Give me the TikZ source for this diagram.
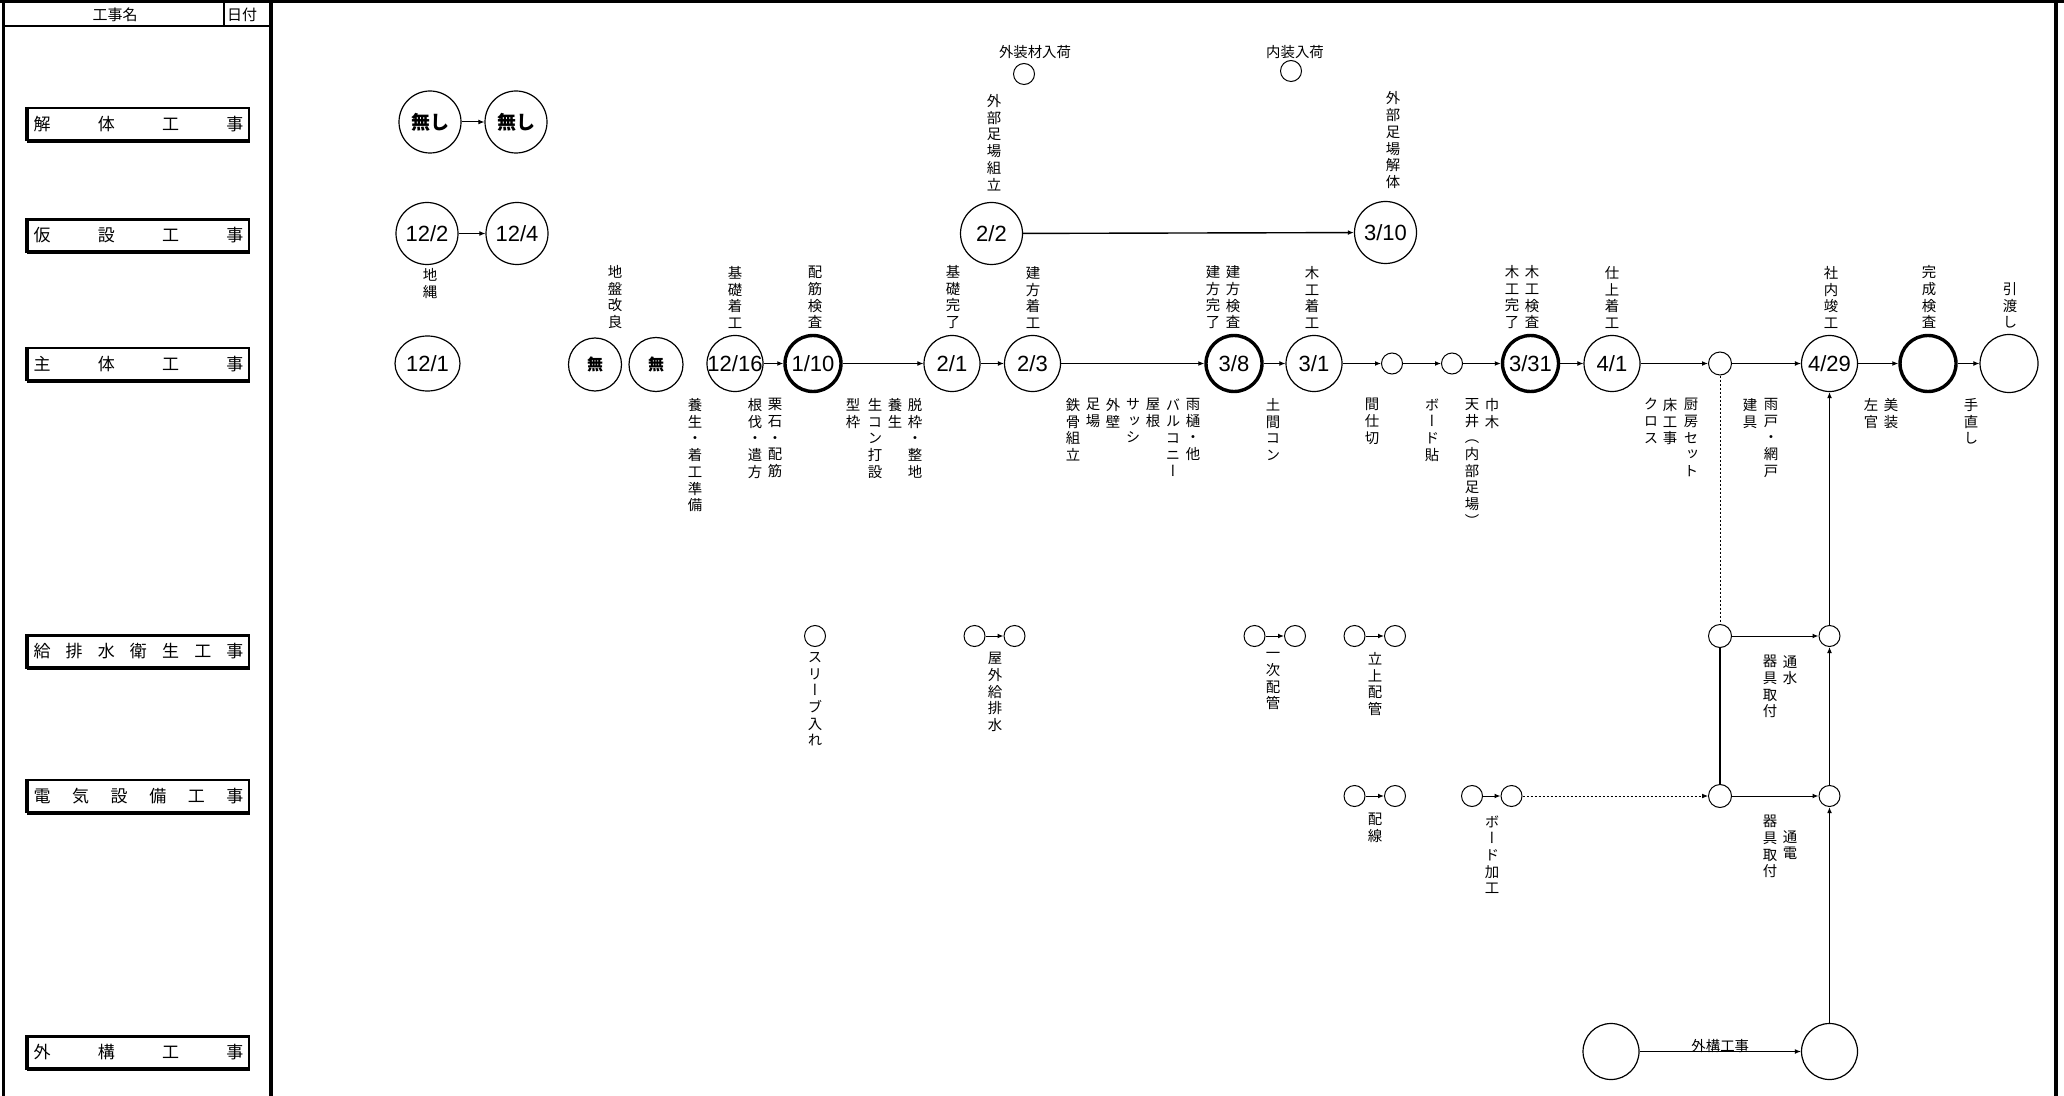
\documentclass[tikz,border=0pt]{standalone}
\usepackage{fontspec}
\setmainfont{Liberation Sans}
\newfontfamily\jp{Noto Sans CJK JP}
\newfontfamily\jpv[RawFeature=+vert]{Noto Sans CJK JP}
\usetikzlibrary{arrows.meta,shapes.geometric}
\makeatletter
\newcommand\vtx[1]{\vbox{\jpv\fontsize{7.2pt}{8.35pt}\selectfont\lineskiplimit=-100pt\lineskip=0pt\@tfor\vt@c:=#1\do{\hbox to 1em{\hss\vt@c\hss}}}}
\newcommand\spreadtx[1]{\makebox[105pt][s]{\jp\def\sp@sep{}\@tfor\sp@c:=#1\do{\sp@sep\sp@c\def\sp@sep{\hfill}}}}
\newcommand\dtx[1]{\makebox[0pt]{#1}}
\makeatother
\tikzset{
 every node/.style={inner sep=0pt},
 dnode/.style={circle,draw,line width=0.6pt,minimum size=28pt,font=\fontsize{11pt}{13pt}\selectfont},
 dnodeL/.style={dnode,minimum size=31pt},
 hot/.style={line width=1.7pt},
 snode/.style={circle,draw,line width=0.5pt,minimum size=10.5pt},
 arr/.style={-{Latex[length=3pt,width=2.4pt]},line width=0.5pt},
 dsh/.style={line width=0.4pt,dash pattern=on 1.2pt off 0.8pt},
 catbox/.style={draw,line width=1.2pt,minimum width=110.5pt,minimum height=16pt,font=\fontsize{8.5pt}{10pt}\selectfont},
 up/.style={anchor=south},
 dn/.style={anchor=north},
 htx/.style={font=\jp\fontsize{7.2pt}{8.6pt}\selectfont},
}
\begin{document}
\begin{tikzpicture}[x=0.5pt,y=-0.5pt]
\useasboundingbox (0,0) rectangle (2064,1096);
% frame
\draw[line width=1.5pt] (0,1.5) -- (2064,1.5);
\draw[line width=1.7pt] (3.5,0) -- (3.5,1096);
\draw[line width=2pt] (271,0) -- (271,1096);
\draw[line width=2pt] (2056,0) -- (2056,1096);
\draw[line width=0.9pt] (3.5,26) -- (271,26);
\draw[line width=0.9pt] (224,1.5) -- (224,26);
\node (hd1) at (115,14.5) {\jp\fontsize{7.5pt}{9pt}\selectfont 工事名};
\node (hd2) at (242,14.5) {\jp\fontsize{7.5pt}{9pt}\selectfont 日付};
% category boxes
\node[catbox] (c1) at (138.5,124) {\spreadtx{解体工事}};
\node[catbox] (c2) at (138.5,235.5) {\spreadtx{仮設工事}};
\node[catbox] (c3) at (138.5,364) {\spreadtx{主体工事}};
\node[catbox] (c4) at (138.5,651.5) {\spreadtx{給排水衛生工事}};
\node[catbox] (c5) at (138.5,796) {\spreadtx{電気設備工事}};
\node[catbox] (c6) at (138.5,1052.5) {\spreadtx{外構工事}};
\foreach \c in {c1,c2,c3,c4,c5,c6}{
  \draw[line width=2pt] (\c.north west) -- (\c.south west);
  \draw[line width=1.6pt] (\c.south west) -- (\c.south east);
}
% row 1
\node[dnodeL] (n1) at (430,122) {\jp\bfseries\fontsize{9.5pt}{11pt}\selectfont 無し};
\node[dnodeL] (n2) at (516,122) {\jp\bfseries\fontsize{9.5pt}{11pt}\selectfont 無し};
\draw[arr] (n1) -- (n2);
% row 2
\node[dnodeL] (k1) at (427,233.5) {\dtx{12/2}};
\node[dnodeL] (k2) at (517,233.5) {\dtx{12/4}};
\draw[arr] (k1) -- (k2);
\node[dn] (lk1) at (430,268) {\vtx{地縄}};
\node[dnodeL] (t1) at (991.5,233.5) {2/2};
\node[dnodeL] (t2) at (1385.5,232.5) {\dtx{3/10}};
\draw[arr,line width=0.7pt] (t1) -- (t2);
\node[up] (lt1) at (994,191) {\vtx{外部足場組立}};
\node[up] (lt2) at (1393,189) {\vtx{外部足場解体}};
\node[snode] (u1) at (1024,74) {};
\node[snode] (u2) at (1291,71) {};
\node[htx] (lu1) at (1035,52) {外装材入荷};
\node[htx] (lu2) at (1295,52) {内装入荷};
% main row
\node[draw,ellipse,line width=0.6pt,minimum width=32.5pt,minimum height=27.5pt,font=\fontsize{11pt}{13pt}\selectfont] (m0) at (427.5,363.5) {\dtx{12/1}};
\node[dnode,minimum size=26.5pt] (mu1) at (595,364.5) {\jp\bfseries\fontsize{8pt}{10pt}\selectfont 無};
\node[dnode,minimum size=27pt] (mu2) at (656,364.5) {\jp\bfseries\fontsize{8pt}{10pt}\selectfont 無};
\node[dnode] (m1) at (735,363.5) {\dtx{12/16}};
\node[dnode,hot] (m2) at (813,363.5) {\dtx{1/10}};
\node[dnode] (m3) at (952,363.5) {2/1};
\node[dnode] (m4) at (1032.5,363.5) {2/3};
\node[dnode,hot] (m5) at (1234,363.5) {3/8};
\node[dnode] (m6) at (1314,363.5) {3/1};
\node[snode] (s1) at (1392,363.5) {};
\node[snode] (s2) at (1452,363.5) {};
\node[dnode,hot] (m7) at (1530.5,363.5) {\dtx{3/31}};
\node[dnode] (m8) at (1612,363.5) {4/1};
\node[snode,minimum size=11.5pt] (s3) at (1720,363.5) {};
\node[dnode] (m9) at (1829.5,363.5) {\dtx{4/29}};
\node[dnode,hot] (m10) at (1928,363.5) {};
\node[dnode,minimum size=29pt] (m11) at (2009,363.5) {};
\draw[arr] (m1) -- (m2);
\draw[arr] (m2) -- (m3);
\draw[arr] (m3) -- (m4);
\draw[arr] (m4) -- (m5);
\draw[arr] (m5) -- (m6);
\draw[arr] (m6) -- (s1);
\draw[arr] (s1) -- (s2);
\draw[arr] (s2) -- (m7);
\draw[arr] (m7) -- (m8);
\draw[arr] (m8) -- (s3);
\draw[arr] (s3) -- (m9);
\draw[arr] (m9) -- (m10);
\draw[arr] (m10) -- (m11);
% labels above main row
\node[up] (a1) at (615,329) {\vtx{地盤改良}};
\node[up] (a2) at (735,329) {\vtx{基礎着工}};
\node[up] (a3) at (815,329) {\vtx{配筋検査}};
\node[up] (a4) at (953,329) {\vtx{基礎完了}};
\node[up] (a5) at (1033,329) {\vtx{建方着工}};
\node[up] (a6) at (1213,329) {\vtx{建方完了}};
\node[up] (a7) at (1233,329) {\vtx{建方検査}};
\node[up] (a8) at (1312,329) {\vtx{木工着工}};
\node[up] (a9) at (1512,329) {\vtx{木工完了}};
\node[up] (a10) at (1532,329) {\vtx{木工検査}};
\node[up] (a11) at (1612,329) {\vtx{仕上着工}};
\node[up] (a12) at (1831,329) {\vtx{社内竣工}};
\node[up] (a13) at (1929,329) {\vtx{完成検査}};
\node[up] (a14) at (2010,329) {\vtx{引渡し}};
% labels below main row
\node[dn] (b1) at (695,398) {\vtx{養生・着工準備}};
\node[dn] (b2) at (755,398) {\vtx{根伐・遣方}};
\node[dn] (b3) at (775,398) {\vtx{栗石・配筋}};
\node[dn] (b4) at (853,398) {\vtx{型枠}};
\node[dn] (b5) at (875,398) {\vtx{生コン打設}};
\node[dn] (b6) at (895,398) {\vtx{養生}};
\node[dn] (b7) at (915,398) {\vtx{脱枠・整地}};
\node[dn] (b8) at (1073,398) {\vtx{鉄骨組立}};
\node[dn] (b9) at (1093,398) {\vtx{足場}};
\node[dn] (b10) at (1113,398) {\vtx{外壁}};
\node[dn] (b11) at (1133,398) {\vtx{サッシ}};
\node[dn] (b12) at (1153,398) {\vtx{屋根}};
\node[dn] (b13) at (1173,398) {\vtx{バルコニー}};
\node[dn] (b14) at (1193,398) {\vtx{雨樋・他}};
\node[dn] (b15) at (1273,398) {\vtx{土間コン}};
\node[dn] (b16) at (1372,398) {\vtx{間仕切}};
\node[dn] (b17) at (1432,398) {\vtx{ボード貼}};
\node[dn] (b18) at (1472,398) {\vtx{天井（内部足場）}};
\node[dn] (b19) at (1492,398) {\vtx{巾木}};
\node[dn] (b20) at (1651,398) {\vtx{クロス}};
\node[dn] (b21) at (1670,398) {\vtx{床工事}};
\node[dn] (b22) at (1691,398) {\vtx{厨房セット}};
\node[dn] (b23) at (1750,398) {\vtx{建具}};
\node[dn] (b24) at (1771,398) {\vtx{雨戸・網戸}};
\node[dn] (b25) at (1871,398) {\vtx{左官}};
\node[dn] (b26) at (1891,398) {\vtx{美装}};
\node[dn] (b27) at (1971,398) {\vtx{手直し}};
% row 4 (plumbing)
\node[snode] (w1) at (815,636) {};
\node[snode] (w2) at (974.5,636) {};
\node[snode] (w3) at (1014.5,636) {};
\node[snode] (w4) at (1254.5,636) {};
\node[snode] (w5) at (1295,636) {};
\node[snode] (w6) at (1354.5,636) {};
\node[snode] (w7) at (1395,636) {};
\node[snode,minimum size=11.5pt] (A) at (1720,636) {};
\node[snode] (B) at (1829.5,636) {};
\draw[arr] (w2) -- (w3);
\draw[arr] (w4) -- (w5);
\draw[arr] (w6) -- (w7);
\node[dn] (lw1) at (815,652) {\vtx{スリーブ入れ}};
\node[dn] (lw2) at (995,652) {\vtx{屋外給排水}};
\node[dn] (lw3) at (1273,652) {\vtx{一次配管}};
\node[dn] (lw4) at (1375,652) {\vtx{立上配管}};
\node[dn] (lw5) at (1770,655) {\vtx{器具取付}};
\node[dn] (lw6) at (1790,655) {\vtx{通水}};
% row 5 (electric)
\node[snode] (e1) at (1354.5,796) {};
\node[snode] (e2) at (1395,796) {};
\node[snode] (e3) at (1472,796) {};
\node[snode] (e4) at (1511.5,796) {};
\node[snode,minimum size=11.5pt] (C) at (1720,796) {};
\node[snode] (D) at (1829.5,796) {};
\draw[arr] (e1) -- (e2);
\draw[arr] (e3) -- (e4);
\node[dn] (le1) at (1375,813) {\vtx{配線}};
\node[dn] (le2) at (1492,815) {\vtx{ボード加工}};
\node[dn] (le3) at (1770,815) {\vtx{器具取付}};
\node[dn] (le4) at (1790,830) {\vtx{通電}};
% row 6 (exterior)
\node[dnode] (g1) at (1611,1051.5) {};
\node[dnode] (g2) at (1829.5,1051.5) {};
\draw[arr] (g1) -- node[anchor=south,yshift=-1pt,htx] (gl) {外構工事} (g2);
% cross connections
\draw[dsh] (s3) -- (A);
\draw[dsh,-{Latex[length=3pt,width=2.4pt]}] (e4) -- (C);
\draw[line width=1.2pt] (A) -- (C);
\draw[arr] (A) -- (B);
\draw[arr] (C) -- (D);
\draw[arr] (D) -- (B);
\draw[arr] (B) -- (m9);
\draw[arr,line width=0.8pt] (g2) -- (D);
\end{tikzpicture}
\end{document}
